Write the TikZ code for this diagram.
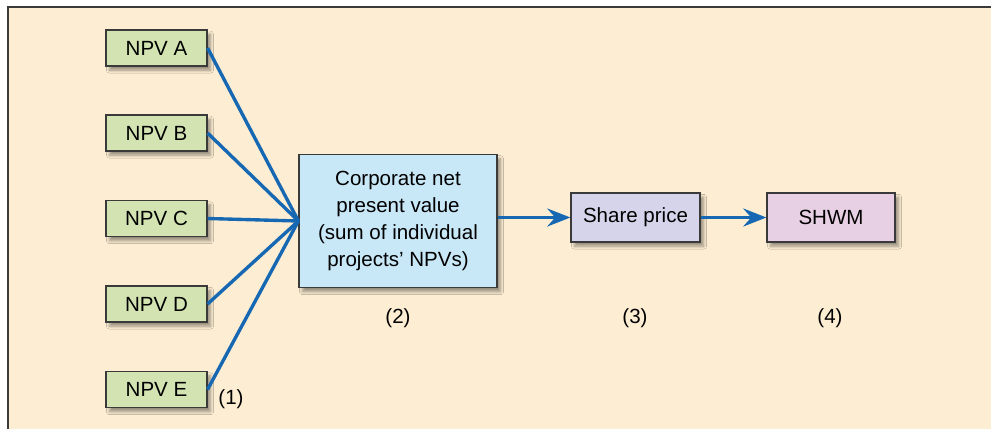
\documentclass[tikz,border=0pt]{standalone}
\usepackage{fontspec}
\setmainfont{Liberation Sans}
\usetikzlibrary{arrows.meta,shadows.blur}
\definecolor{fond}{HTML}{FDEED3}
\definecolor{vert}{HTML}{D3E4B2}
\definecolor{bleuclair}{HTML}{C8E7F7}
\definecolor{lavande}{HTML}{D5D4EA}
\definecolor{rose}{HTML}{E7D0E3}
\definecolor{fleche}{HTML}{1768B3}
\definecolor{bord}{HTML}{3A3A3A}
\begin{document}
\begin{tikzpicture}[x=0.025cm,y=-0.025cm,font=\fontsize{14.6}{19}\selectfont]
    %%%%%%%%%%%%%%%%%%%%%%%%%%%%%%%%%%%%%% Cadre
    \useasboundingbox (0,0) rectangle (991,429);
    \fill[fond] (8,7) rectangle (991,429);
    \draw[bord,line width=0.9pt] (8,429)--(8,7)--(991,7);

    %%%%%%%%%%%%%%%%%%%%%%%%%%%%%%%%%%%%%% Styles
    \tikzstyle{boite}=[draw=bord,line width=0.8pt,inner sep=0pt,align=center,
        blur shadow={shadow xshift=2.5pt,shadow yshift=-3pt,shadow opacity=40,shadow blur steps=6}]
    \tikzstyle{projet}=[boite,fill=vert,minimum width=2.525cm,minimum height=0.9cm]
    \tikzstyle{lien}=[fleche,line width=2.4pt]
    \tikzstyle{suite}=[lien,-{Stealth[length=0.58cm,width=0.45cm,inset=0.2cm]}]

    %%%%%%%%%%%%%%%%%%%%%%%%%%%%%%%%%%%%%% Projets
    \node[projet] (npvA) at (156.5,48) {NPV A};
    \node[projet] (npvB) at (156.5,133) {NPV B};
    \node[projet] (npvC) at (156.5,218.5) {NPV C};
    \node[projet] (npvD) at (156.5,304) {NPV D};
    \node[projet] (npvE) at (156.5,389.5) {NPV E};

    %%%%%%%%%%%%%%%%%%%%%%%%%%%%%%%%%%%%%% Valeur, cours, richesse
    \node[boite,fill=bleuclair,minimum width=4.95cm,minimum height=3.325cm] (van) at (398,221)
        {Corporate net\\present value\\(sum of individual\\projects’ NPVs)};
    \node[boite,fill=lavande,minimum width=3.225cm,minimum height=1.225cm] (cours) at (635.5,217.5) {Share price};
    \node[boite,fill=rose,minimum width=3.2cm,minimum height=1.225cm] (shwm) at (831,217.5) {SHWM};

    %%%%%%%%%%%%%%%%%%%%%%%%%%%%%%%%%%%%%% Numeros
    \node (n1) at (231,399) {(1)};
    \node (n2) at (398,318) {(2)};
    \node (n3) at (635,318) {(3)};
    \node (n4) at (830,318) {(4)};

    %%%%%%%%%%%%%%%%%%%%%%%%%%%%%%%%%%%%%% Liens
    \foreach \p in {npvA,npvB,npvC,npvD,npvE}
        \draw[lien] (\p.east)--(van.west);
    \draw[suite] (van.east |- cours.west)--(cours.west);
    \draw[suite] (cours.east)--(shwm.west);
\end{tikzpicture}
\end{document}
